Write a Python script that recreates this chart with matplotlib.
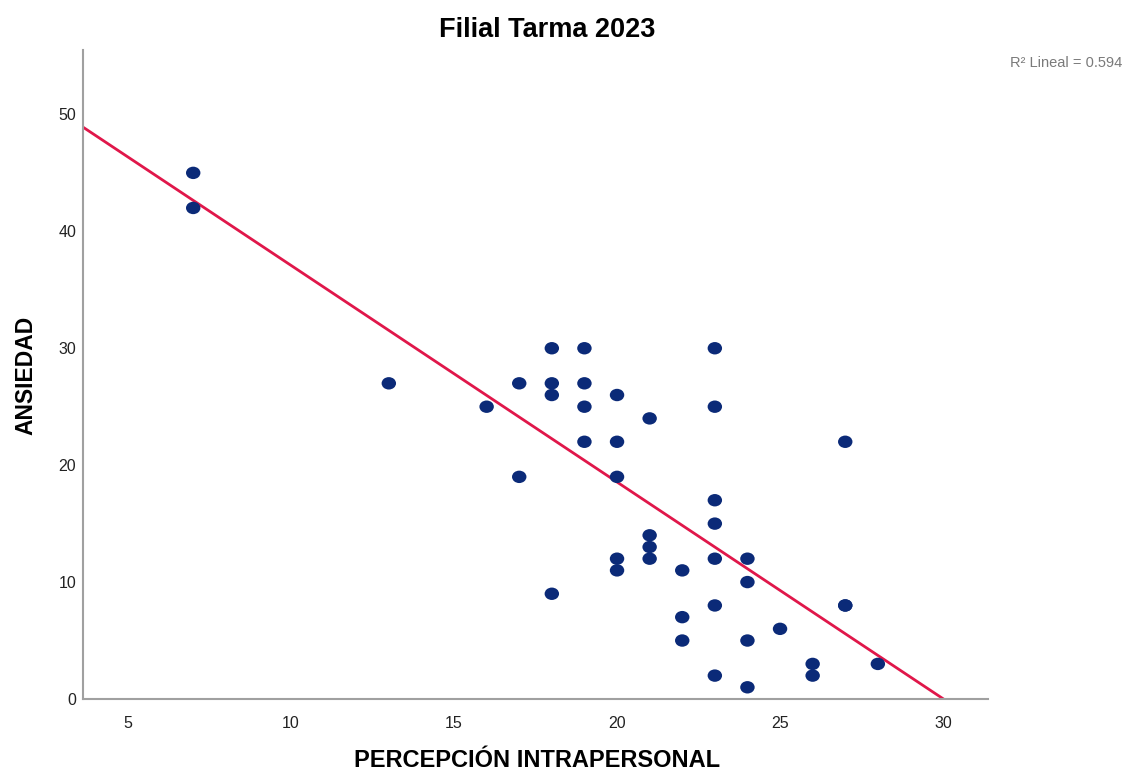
import numpy as np
import matplotlib.pyplot as plt
from matplotlib.path import Path
from matplotlib.transforms import Affine2D

plt.rcParams['font.family'] = ['Liberation Sans', 'DejaVu Sans']

# puntajes por estudiante
percepcion = [7, 7, 13, 16, 17, 17, 18, 18, 18, 18, 19, 19, 19, 19,
              20, 20, 20, 20, 20, 21, 21, 21, 21, 22, 22, 22,
              23, 23, 23, 23, 23, 23, 23, 24, 24, 24, 24, 25, 26, 26, 27, 27, 27, 28]
ansiedad = [45, 42, 27, 25, 27, 19, 30, 27, 26, 9, 30, 27, 25, 22,
            26, 22, 19, 12, 11, 24, 14, 13, 12, 11, 7, 5,
            30, 25, 17, 15, 12, 8, 2, 12, 10, 5, 1, 6, 3, 2, 22, 8, 8, 3]

x_ticks = [5, 10, 15, 20, 25, 30]
y_ticks = [0, 10, 20, 30, 40, 50]

x = np.array(percepcion, dtype=float)
y = np.array(ansiedad, dtype=float)
slope, intercept = np.polyfit(x, y, 1)
r2 = np.corrcoef(x, y)[0, 1] ** 2

fig = plt.figure(figsize=(11.31, 7.71), dpi=100)
ax = fig.add_axes([0.0734, 0.0934, 0.8002, 0.8416])

xmin, xmax = 3.62, 31.38
ax.set_xlim(xmin, xmax)
ax.set_ylim(0, 55.5)

# punto ovalado como en SPSS
ellipse = Path.unit_circle().transformed(Affine2D().scale(1.0, 0.86))
ax.scatter(x, y, s=108, marker=ellipse, color='#0b2a78', edgecolors='none', zorder=3)

xl = np.array([xmin, -intercept / slope])
ax.plot(xl, slope * xl + intercept, color='#e0174a', lw=2, zorder=2)

ax.set_xticks(x_ticks)
ax.set_yticks(y_ticks)
ax.tick_params(length=0, labelsize=11.5, labelcolor='#222222')
ax.tick_params(axis='x', pad=12)
ax.tick_params(axis='y', pad=5)
for s in ['top', 'right']:
    ax.spines[s].set_visible(False)
for s in ['left', 'bottom']:
    ax.spines[s].set_color('#a0a0a0')
    ax.spines[s].set_linewidth(1.5)

fig.text(0.475, 0.0135, 'PERCEPCIÓN INTRAPERSONAL', fontsize=17, fontweight='bold',
         ha='center', va='center')
fig.text(0.0225, 0.513, 'ANSIEDAD', fontsize=16.5, fontweight='bold', rotation=90,
         ha='center', va='center')
fig.text(0.484, 0.961, 'Filial Tarma 2023', fontsize=19.5, fontweight='bold', ha='center', va='center')
fig.text(0.992, 0.918, 'R² Lineal = %.3f' % r2, fontsize=10.5, color='#7a7a7a', ha='right', va='center')

fig.savefig('out.png', dpi=100)
